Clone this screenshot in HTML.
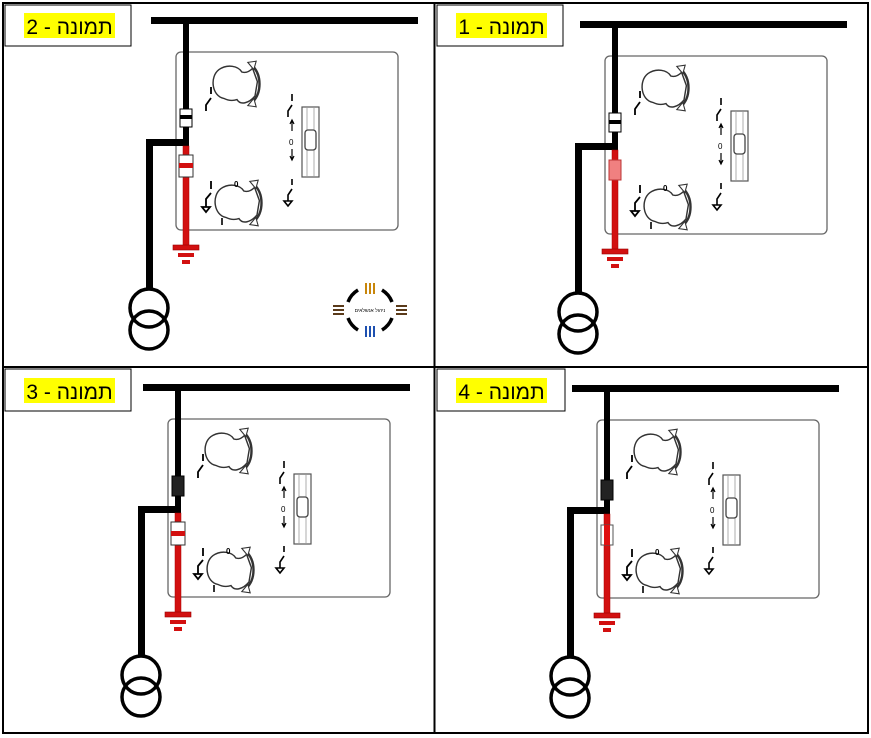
<!DOCTYPE html>
<html><head><meta charset="utf-8"><style>
html,body{margin:0;padding:0;background:#fff;width:871px;height:738px;overflow:hidden}
svg{display:block}
.lbl{font-family:"Liberation Sans","Noto Sans CJK SC",sans-serif;font-size:21px;fill:#000}
</style></head><body>
<svg width="871" height="738" viewBox="0 0 871 738" xmlns="http://www.w3.org/2000/svg">
<defs>
<g id="knob">
  <path d="M-6,12 C-16,10 -18,-6 -10,-12 C-3,-17 6,-15 9,-10 C12,-9 15,-10 18,-13 L22,-2 L20,10 C15,16 8,18 5,13 C2,14 -2,14 -6,12 Z" fill="#fff" stroke="#333" stroke-width="1.2"/>
  <path d="M17,-16 C26,-8 26,8 17,16" fill="none" stroke="#333" stroke-width="2"/>
  <path d="M14,-18 L21,-19 L19,-12 Z M14,18 L21,19 L19,12 Z" fill="#fff" stroke="#333" stroke-width="0.9"/>
</g>
<g id="panel">
  <rect x="-10" y="31" width="222" height="178" rx="5" fill="none" stroke="#666" stroke-width="1.3"/>
  <rect x="-35" y="-4" width="267" height="7" fill="#000"/>
  <rect x="-3" y="0" width="6" height="125" fill="#000"/>
  <rect x="-40" y="118" width="43" height="7" fill="#000"/>
  <rect x="-40" y="118" width="7" height="150" fill="#000"/>
  <rect x="-3" y="125" width="6" height="100" fill="#d21010" stroke="#a00" stroke-width="0.5"/>
  <rect x="-13" y="224" width="26" height="5" fill="#d21010" stroke="#900" stroke-width="0.6"/>
  <rect x="-8" y="232" width="16" height="4" fill="#d21010"/>
  <rect x="-4" y="239" width="8" height="4" fill="#d21010"/>
  <circle cx="-37" cy="287" r="19" fill="none" stroke="#000" stroke-width="3.5"/>
  <circle cx="-37" cy="309" r="19" fill="none" stroke="#000" stroke-width="3.5"/>
  <use href="#knob" transform="translate(45,63) scale(1.2)"/>
  <use href="#knob" transform="translate(47,182) scale(1.2)"/>
  <path d="M25,66 V73 M25,77 L20,84 V90" fill="none" stroke="#000" stroke-width="1.8"/>
  <path d="M25,160 V168 M25,172 L20,178 V186 M16,186 H24 L20,191 Z" fill="none" stroke="#000" stroke-width="1.8"/>
  <text x="48" y="166" font-family="Liberation Sans,sans-serif" font-size="8" font-weight="bold">0</text>
  <path d="M36,197 V204" stroke="#000" stroke-width="1.6"/>
  <rect x="116" y="86" width="17" height="70" fill="#fff" stroke="#555" stroke-width="1.2"/>
  <path d="M121,86 V156 M128,86 V156" stroke="#999" stroke-width="0.8"/>
  <rect x="119" y="109" width="11" height="20" rx="3" fill="#fff" stroke="#444" stroke-width="1.3"/>
  <path d="M106,73 V80 M106,84 L102,90 V96" fill="none" stroke="#000" stroke-width="1.6"/>
  <path d="M106,100 V110 M106,128 V138 M104,103 L106,99 L108,103 M104,135 L106,139 L108,135" fill="none" stroke="#000" stroke-width="1.2"/>
  <text x="103" y="124" font-family="Liberation Sans,sans-serif" font-size="8">0</text>
  <path d="M106,158 V164 M106,168 L102,174 V180 M98,180 H106 L102,185 Z" fill="none" stroke="#000" stroke-width="1.6"/>
</g>
</defs>
<rect x="3" y="3" width="865" height="730" fill="#fff" stroke="#000" stroke-width="2"/>
<line x1="434.5" y1="3" x2="434.5" y2="733" stroke="#000" stroke-width="2"/>
<line x1="3" y1="367" x2="868" y2="367" stroke="#000" stroke-width="2"/>

<use href="#panel" x="186" y="21"/>
<rect x="180" y="109" width="12" height="18" fill="#fff" stroke="#000" stroke-width="1"/>
<rect x="180" y="115" width="12" height="4" fill="#000"/>
<rect x="179" y="155" width="14" height="22" fill="#fff" stroke="#333" stroke-width="1"/>
<rect x="179" y="163" width="14" height="5" fill="#d21010"/>
<rect x="5" y="5" width="126" height="41" fill="#fff" stroke="#000" stroke-width="1"/>
<rect x="24" y="13" width="91" height="25" fill="#ffff00"/>
<text class="lbl" x="69.5" y="34" text-anchor="middle">תמונה - 2</text>
<g transform="translate(370,310)" fill="none" stroke="#000" stroke-width="3.5">
  <path d="M-12,-20 A24,24 0 0 0 -22,-8 M12,-20 A24,24 0 0 1 22,-8 M-22,8 A24,24 0 0 0 -12,20 M22,8 A24,24 0 0 1 12,20"/>
  <path d="M-4,-27 V-16 M0,-27 V-16 M4,-27 V-16" stroke="#c8860a" stroke-width="2"/>
  <path d="M-4,16 V27 M0,16 V27 M4,16 V27" stroke="#1e50b0" stroke-width="2"/>
  <path d="M-37,-4 H-26 M-37,0 H-26 M-37,4 H-26 M26,-4 H37 M26,0 H37 M26,4 H37" stroke="#5a3a1a" stroke-width="2"/>
  <text x="0" y="2" font-size="5" fill="#000" stroke="none" text-anchor="middle" font-family="Liberation Sans,sans-serif">ניהול אנשלאים</text>
</g>

<use href="#panel" x="615" y="25"/>
<rect x="609" y="113" width="12" height="19" fill="#fff" stroke="#000" stroke-width="1"/>
<rect x="609" y="120" width="12" height="4" fill="#000"/>
<rect x="609" y="160" width="12" height="20" fill="#f08080" stroke="#b33" stroke-width="1"/>
<rect x="437" y="5" width="126" height="41" fill="#fff" stroke="#000" stroke-width="1"/>
<rect x="456" y="13" width="91" height="25" fill="#ffff00"/>
<text class="lbl" x="501.5" y="34" text-anchor="middle">תמונה - 1</text>

<use href="#panel" x="178" y="388"/>
<rect x="172" y="476" width="12" height="20" fill="#222" stroke="#000" stroke-width="1"/>
<rect x="171" y="522" width="14" height="23" fill="#fff" stroke="#333" stroke-width="1"/>
<rect x="171" y="531" width="14" height="5" fill="#d21010"/>
<rect x="5" y="369" width="126" height="42" fill="#fff" stroke="#000" stroke-width="1"/>
<rect x="24" y="378" width="91" height="25" fill="#ffff00"/>
<text class="lbl" x="69.5" y="399" text-anchor="middle">תמונה - 3</text>

<use href="#panel" x="607" y="389"/>
<rect x="601" y="480" width="12" height="20" fill="#222" stroke="#000" stroke-width="1"/>
<rect x="601" y="525" width="12" height="20" fill="#fff" stroke="#555" stroke-width="1"/>
<rect x="604" y="525" width="6" height="20" fill="#e01010"/>
<rect x="437" y="369" width="128" height="42" fill="#fff" stroke="#000" stroke-width="1"/>
<rect x="456" y="378" width="91" height="25" fill="#ffff00"/>
<text class="lbl" x="501.5" y="399" text-anchor="middle">תמונה - 4</text>
</svg>
</body></html>
